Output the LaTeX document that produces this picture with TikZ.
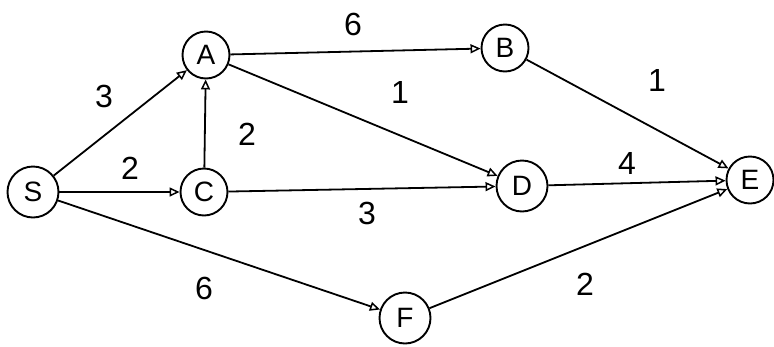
\documentclass[tikz,border=0pt]{standalone}
\usepackage{fontspec}
\setmainfont{Liberation Sans}
\usetikzlibrary{arrows.meta}
\begin{document}
\begin{tikzpicture}[x=1pt,y=-1pt,
  vertex/.style={draw,circle,line width=1.9pt,inner sep=0pt,minimum size=47pt,font=\fontsize{28}{28}\selectfont},
  bigvertex/.style={vertex,minimum size=51pt},
  edge/.style={line width=1.8pt,-{Triangle[open,length=10pt,width=9pt,line width=1.5pt]}},
  wlabel/.style={font=\fontsize{32}{32}\selectfont}]
\useasboundingbox (0,0) rectangle (774,346);
\node[bigvertex] (S) at (33,192) {S};
\node[vertex] (A) at (206,55) {A};
\node[vertex] (C) at (204,192) {C};
\node[vertex] (B) at (505,48) {B};
\node[bigvertex] (D) at (522,186) {D};
\node[vertex] (E) at (750,180) {E};
\node[bigvertex] (F) at (405,318) {F};
\draw[edge] (S) -- (A);
\draw[edge] (S) -- (C);
\draw[edge] (S) -- (F);
\draw[edge] (C) -- (A);
\draw[edge] (A) -- (B);
\draw[edge] (A) -- (D);
\draw[edge] (C) -- (D);
\draw[edge] (B) -- (E);
\draw[edge] (D) -- (E);
\draw[edge] (F) -- (E);
\node[wlabel] (l1) at (104,96) {3};
\node[wlabel] (l2) at (130,168) {2};
\node[wlabel] (l3) at (247,134) {2};
\node[wlabel] (l4) at (204,288) {6};
\node[wlabel] (l5) at (353,24) {6};
\node[wlabel] (l6) at (400,92) {1};
\node[wlabel] (l7) at (367,213) {3};
\node[wlabel] (l8) at (657,80) {1};
\node[wlabel] (l9) at (627,163) {4};
\node[wlabel] (l10) at (585,284) {2};
\end{tikzpicture}
\end{document}
